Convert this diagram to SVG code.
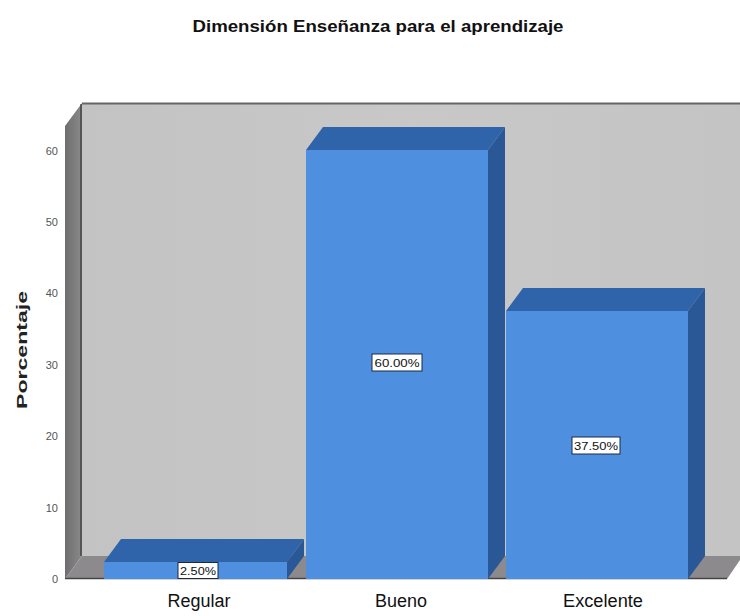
<svg xmlns="http://www.w3.org/2000/svg" width="740" height="616" viewBox="0 0 740 616">
<defs>
<linearGradient id="wallL" x1="0" y1="0" x2="1" y2="0">
<stop offset="0" stop-color="#6e6e6e"/><stop offset="1" stop-color="#8a8a8a"/>
</linearGradient>
<linearGradient id="back" x1="0" y1="0" x2="1" y2="0">
<stop offset="0" stop-color="#c3c3c3"/><stop offset="0.5" stop-color="#c8c8c8"/><stop offset="1" stop-color="#c4c4c4"/>
</linearGradient>
</defs>
<style>
.front{fill:#4f8fe0}
.top{fill:#2f64aa}
.side{fill:#2a5896}
.tick{font-family:"Liberation Sans",Arial,sans-serif;font-size:11px;fill:#555;text-anchor:end}
.cat{font-family:"Liberation Sans",Arial,sans-serif;font-size:18px;fill:#111;text-anchor:middle}
.lbl{font-family:"Liberation Sans",Arial,sans-serif;font-size:11px;fill:#111;text-anchor:middle}
.box{fill:#fff;stroke:#1a2a40;stroke-width:1}
</style>
<rect width="740" height="616" fill="#fff"/>
<text x="378" y="32" font-family="Liberation Sans,Arial,sans-serif" font-weight="bold" font-size="17" fill="#111" text-anchor="middle" textLength="371" lengthAdjust="spacingAndGlyphs">Dimensión Enseñanza para el aprendizaje</text>

<g id="frame">
<rect x="82" y="103" width="658" height="453" fill="url(#back)"/>
<line x1="82" y1="103.5" x2="740" y2="103.5" stroke="#666" stroke-width="2"/>
<polygon points="65,126 82,103 82,556 65,579" fill="url(#wallL)"/>
<line x1="81" y1="104" x2="81" y2="556" stroke="#333" stroke-width="1.2"/>
<polygon points="82,556 740,556 740,560 727,579 65,579" fill="#8c8a8c"/>
<line x1="65" y1="578.5" x2="727" y2="578.5" stroke="#444" stroke-width="1.5"/>
</g>

<g id="yaxis">
<text class="tick" x="58" y="583">0</text>
<text class="tick" x="58" y="512">10</text>
<text class="tick" x="58" y="440">20</text>
<text class="tick" x="58" y="369">30</text>
<text class="tick" x="58" y="297">40</text>
<text class="tick" x="58" y="226">50</text>
<text class="tick" x="58" y="155">60</text>
<text transform="translate(27,350) rotate(-90)" font-family="Liberation Sans,Arial,sans-serif" font-weight="bold" font-size="15" fill="#222" text-anchor="middle" textLength="118" lengthAdjust="spacingAndGlyphs">Porcentaje</text>
</g>

<g id="bar-regular">
<polygon class="top" points="104,562 121,539 304,539 287,562"/>
<polygon class="side" points="287,562 304,539 304,556 287,579"/>
<rect class="front" x="104" y="562" width="183" height="17"/>
<rect class="box" x="178" y="562.5" width="40" height="16"/>
<text class="lbl" x="198" y="575" textLength="36" lengthAdjust="spacingAndGlyphs">2.50%</text>
</g>

<g id="bar-bueno">
<polygon class="top" points="306,150 323,127 505,127 488,150"/>
<polygon class="side" points="488,150 505,127 505,556 488,579"/>
<rect class="front" x="306" y="150" width="182" height="429"/>
<rect class="box" x="372" y="354" width="50" height="17"/>
<text class="lbl" x="397" y="366.5" textLength="45" lengthAdjust="spacingAndGlyphs">60.00%</text>
</g>

<g id="bar-excelente">
<polygon class="top" points="506,311 523,288 705,288 688,311"/>
<polygon class="side" points="688,311 705,288 705,556 688,579"/>
<rect class="front" x="506" y="311" width="182" height="268"/>
<rect class="box" x="572" y="437" width="48" height="17"/>
<text class="lbl" x="596" y="449.5" textLength="44" lengthAdjust="spacingAndGlyphs">37.50%</text>
</g>

<g id="xaxis">
<text class="cat" x="199" y="607" textLength="63" lengthAdjust="spacingAndGlyphs">Regular</text>
<text class="cat" x="401" y="607" textLength="52" lengthAdjust="spacingAndGlyphs">Bueno</text>
<text class="cat" x="603" y="607" textLength="80" lengthAdjust="spacingAndGlyphs">Excelente</text>
</g>
</svg>
